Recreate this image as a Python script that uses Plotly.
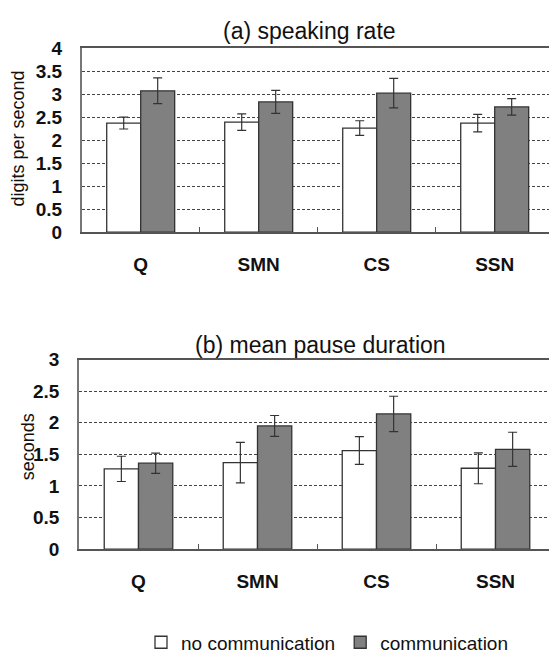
import plotly.graph_objects as go

categories = ["Q", "SMN", "CS", "SSN"]
series_names = ["no communication", "communication"]

rate_nocomm = [2.37, 2.39, 2.26, 2.37]
rate_nocomm_err = [0.13, 0.18, 0.16, 0.19]
rate_comm = [3.07, 2.83, 3.02, 2.72]
rate_comm_err = [0.28, 0.25, 0.32, 0.18]

pause_nocomm = [1.27, 1.37, 1.56, 1.28]
pause_nocomm_err = [0.20, 0.32, 0.22, 0.245]
pause_comm = [1.36, 1.95, 2.14, 1.58]
pause_comm_err = [0.16, 0.165, 0.28, 0.27]

W, H = 549, 665
FONT = "Liberation Sans, Arial, sans-serif"
fills = ["#ffffff", "#808080"]

def px_x(v):
    return v / W

def px_y(v):
    return 1 - v / H

fig = go.Figure()

panels = [
    ("x", "y", [rate_nocomm, rate_comm], [rate_nocomm_err, rate_comm_err], True),
    ("x2", "y2", [pause_nocomm, pause_comm], [pause_nocomm_err, pause_comm_err], False),
]
for xa, ya, vals, errs, show in panels:
    for i in range(2):
        fig.add_trace(go.Bar(
            x=categories, y=vals[i], name=series_names[i],
            xaxis=xa, yaxis=ya, showlegend=show,
            marker=dict(color=fills[i], line=dict(color="#333333", width=1.3)),
            error_y=dict(type="data", array=errs[i], visible=True,
                         color="#333333", thickness=1.2, width=4.5),
        ))

axis_common = dict(
    type="category", showline=True, linecolor="#555555", linewidth=1.5,
    mirror=True, showgrid=False, ticks="inside", tickson="boundaries",
    ticklen=5, tickcolor="#555555", tickwidth=1,
    tickfont=dict(family=FONT, size=19, color="#111111", weight="bold"),
    ticklabelstandoff=14,
)
yaxis_common = dict(
    showline=True, linecolor="#777777", linewidth=1.5, mirror=False,
    showgrid=True, gridcolor="#444444", gridwidth=1, griddash="3px,2px",
    zeroline=False, ticks="", dtick=0.5,
    tickfont=dict(family=FONT, size=19, color="#111111", weight="bold"),
    ticklabelstandoff=14,
)

fig.update_layout(
    width=W, height=H,
    margin=dict(l=0, r=0, t=0, b=0),
    paper_bgcolor="white", plot_bgcolor="white",
    barmode="group", bargap=0.424, bargroupgap=0,
    xaxis=dict(axis_common, domain=[px_x(81.7), 1], anchor="y",
               range=[-0.5, -0.5 + (W - 81.7) / 118.0]),
    yaxis=dict(yaxis_common, domain=[px_y(229.3), px_y(39.3)], anchor="x",
               range=[0, 4]),
    xaxis2=dict(axis_common, domain=[px_x(79), 1], anchor="y2",
                range=[-0.5, -0.5 + (W - 79) / 119.0]),
    yaxis2=dict(yaxis_common, domain=[px_y(556.7), px_y(361)], anchor="x2",
                range=[0, 3]),
    legend=dict(orientation="h", x=px_x(327), xanchor="center",
                y=px_y(653), yanchor="middle",
                font=dict(family=FONT, size=19, color="#111111"),
                itemwidth=30, tracegroupgap=0),
    annotations=[
        dict(text="(a) speaking rate", x=px_x(309.6), y=px_y(22), xref="paper",
             yref="paper", xanchor="center", yanchor="middle", showarrow=False,
             font=dict(family=FONT, size=23, color="#111111")),
        dict(text="(b) mean pause duration", x=px_x(320), y=px_y(346), xref="paper",
             yref="paper", xanchor="center", yanchor="middle", showarrow=False,
             font=dict(family=FONT, size=23, color="#111111")),
        dict(text="digits per second", x=px_x(18.3), y=px_y(132.5), xref="paper",
             yref="paper", xanchor="center", yanchor="middle", showarrow=False,
             textangle=-90, font=dict(family=FONT, size=18, color="#111111")),
        dict(text="seconds", x=px_x(27.5), y=px_y(451), xref="paper",
             yref="paper", xanchor="center", yanchor="middle", showarrow=False,
             textangle=-90, font=dict(family=FONT, size=18, color="#111111")),
    ],
)

fig.write_html("out.html", config={"displayModeBar": False},
               post_script="document.body.style.margin='0';")
